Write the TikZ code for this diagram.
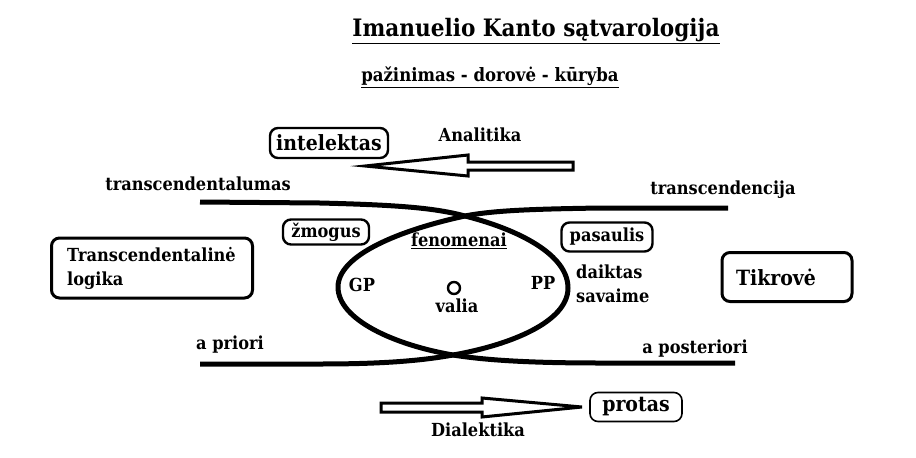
\documentclass[tikz,border=0pt]{standalone}
\usepackage{fontspec}
\setmainfont{DejaVu Serif}[FakeStretch=0.9]
\newcommand{\fs}[1]{\fontsize{#1}{24}\selectfont}
\begin{document}
\begin{tikzpicture}[x=1pt,y=-1pt,
  lbl/.style={inner sep=0pt,font=\bfseries\fs{18}},
  big/.style={lbl,font=\bfseries\fs{21}},
  rbox/.style={draw,line width=2.4pt,rounded corners=8pt,inner sep=0pt},
  heavy/.style={line width=5pt,line join=round},
  outarrow/.style={draw,line width=3pt,line join=miter}]
\useasboundingbox[fill=white] (0,0) rectangle (916,458);

% titles
\node[lbl,font=\bfseries\fs{24}] (title) at (536,31) {\underline{Imanuelio Kanto sątvarologija}};
\node[lbl,font=\bfseries\fs{18.4}] (sub) at (490,77) {\underline{pažinimas - dorovė - kūryba}};

% boxes
\node[rbox,minimum width=118pt,minimum height=30pt] (intel) at (329,143) {};
\node[big] at (intel) {intelektas};
\node[lbl] (anal) at (480,135) {Analitika};

\node[rbox,minimum width=86pt,minimum height=25pt] (zm) at (326,232) {};
\node[lbl] at (zm) {žmogus};
\node[lbl] (fen) at (459,241) {\underline{fenomenai}};
\node[rbox,minimum width=91pt,minimum height=29pt] (pas) at (607,237) {};
\node[lbl] at (pas) {pasaulis};

\node[rbox,line width=3pt,minimum width=201pt,minimum height=60pt] (tl) at (152,268) {};
\node[lbl,align=left,anchor=west] (tltext) at (67,268) {Transcendentalinė\\logika};

\node[rbox,line width=3pt,minimum width=130pt,minimum height=49pt] (tik) at (787,277) {};
\node[big] at (776,277) {Tikrovė};

\node[lbl] (tl1) at (198,184) {transcendentalumas};
\node[lbl] (tc) at (723,190) {transcendencija};
\node[lbl] (ap) at (230,345) {a priori};
\node[lbl] (apo) at (695,349) {a posteriori};

\node[lbl] (gp) at (362,285) {GP};
\node[lbl] (pp) at (543,283) {PP};
\node[draw,circle,line width=2.4pt,minimum size=12pt,inner sep=0pt] (dot) at (454,288) {};
\node[lbl] (valia) at (457,306) {valia};
\node[lbl,align=left,anchor=west] (dk) at (576,284) {daiktas\\savaime};

\node[rbox,line width=1.6pt,minimum width=92pt,minimum height=29pt] (prot) at (636,407) {};
\node[big] at (prot) {protas};
\node[lbl] (dial) at (478,430) {Dialektika};

% crossing lines and loop
\coordinate (ctop) at (465,216);
\coordinate (cbot) at (453,355);
\draw[heavy] (200,202) -- (320,203) .. controls (400,205) and (435,208) .. (ctop)
  .. controls (520,230) and (568,255) .. (568,288)
  .. controls (568,322) and (510,345) .. (cbot)
  .. controls (420,361) and (380,364) .. (320,364) -- (200,364);
\draw[heavy] (728,208) -- (600,208) .. controls (540,209) and (495,210) .. (ctop)
  .. controls (400,230) and (338,255) .. (338,287)
  .. controls (338,320) and (395,345) .. (cbot)
  .. controls (490,361) and (540,363) .. (600,363) -- (735,363);

% outline arrows
\coordinate (atip) at (365,166);
\coordinate (btip) at (582,407);
\draw[outarrow] (573,162) -- (468,162) -- (468,155) -- (atip) -- (468,176) -- (468,170) -- (573,170) -- cycle;
\draw[outarrow] (381,403) -- (482,403) -- (482,398) -- (btip) -- (482,417) -- (482,412) -- (381,412) -- cycle;
\end{tikzpicture}
\end{document}
